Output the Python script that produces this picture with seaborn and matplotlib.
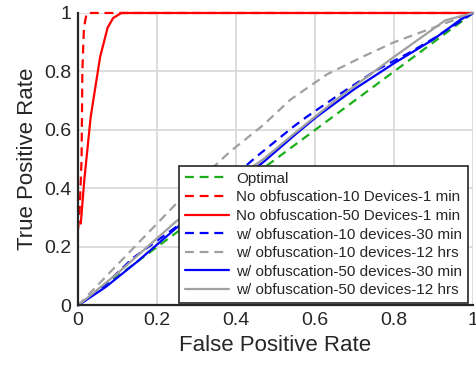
import matplotlib
matplotlib.use("Agg")
import matplotlib.pyplot as plt
import numpy as np
import pandas as pd
import seaborn as sns

# ROC curves (false positive rate, true positive rate)
optimal_fpr = [0.0, 1.0]
optimal_tpr = [0.0, 1.0]

noobf10_1min_fpr = [0.0, 0.004, 0.009, 0.011, 0.015, 0.022, 1.0]
noobf10_1min_tpr = [0.26, 0.32, 0.50, 0.80, 0.95, 1.0, 1.0]

noobf50_1min_fpr = [0.007, 0.016, 0.032, 0.056, 0.075, 0.089, 0.11, 1.0]
noobf50_1min_tpr = [0.28, 0.43, 0.644, 0.85, 0.95, 0.983, 1.0, 1.0]

obf10_30min_fpr = [0.0, 0.06, 0.138, 0.25, 0.35, 0.452, 0.545, 0.579, 0.66, 0.756, 0.84, 0.908, 1.0]
obf10_30min_tpr = [0.0, 0.06, 0.161, 0.27, 0.39, 0.509, 0.611, 0.645, 0.72, 0.805, 0.865, 0.919, 1.0]

obf10_12hrs_fpr = [0.0, 0.1, 0.233, 0.30, 0.385, 0.469, 0.537, 0.63, 0.72, 0.8, 0.93, 1.0]
obf10_12hrs_tpr = [0.0, 0.14, 0.326, 0.42, 0.526, 0.617, 0.703, 0.79, 0.85, 0.9, 0.965, 1.0]

obf50_30min_fpr = [0.0, 0.071, 0.15, 0.248, 0.35, 0.469, 0.554, 0.604, 0.70, 0.80, 0.90, 0.967, 1.0]
obf50_30min_tpr = [0.0, 0.064, 0.15, 0.264, 0.37, 0.49, 0.589, 0.645, 0.74, 0.828, 0.91, 0.976, 1.0]

obf50_12hrs_fpr = [0.0, 0.10, 0.248, 0.35, 0.469, 0.554, 0.65, 0.80, 0.93, 1.0]
obf50_12hrs_tpr = [0.0, 0.11, 0.287, 0.39, 0.50, 0.595, 0.70, 0.85, 0.975, 1.0]

series = [
    ("Optimal", optimal_fpr, optimal_tpr, "#1aaf1a", True),
    ("No obfuscation-10 Devices-1 min", noobf10_1min_fpr, noobf10_1min_tpr, "#ff0000", True),
    ("No obfuscation-50 Devices-1 min", noobf50_1min_fpr, noobf50_1min_tpr, "#ff0000", False),
    ("w/ obfuscation-10 devices-30 min", obf10_30min_fpr, obf10_30min_tpr, "#0000ff", True),
    ("w/ obfuscation-10 devices-12 hrs", obf10_12hrs_fpr, obf10_12hrs_tpr, "#a0a0a0", True),
    ("w/ obfuscation-50 devices-30 min", obf50_30min_fpr, obf50_30min_tpr, "#0000ff", False),
    ("w/ obfuscation-50 devices-12 hrs", obf50_12hrs_fpr, obf50_12hrs_tpr, "#a0a0a0", False),
]

sns.set_style("whitegrid")
plt.rcParams["font.family"] = ["Liberation Sans", "DejaVu Sans"]

fig = plt.figure(figsize=(4.76, 3.71), dpi=100)
ax = fig.add_axes([0.1639, 0.1766, 0.8298, 0.7884])

for name, fpr, tpr, color, dashed in series:
    df = pd.DataFrame({"fpr": fpr, "tpr": tpr})
    sns.lineplot(data=df, x="fpr", y="tpr", ax=ax, color=color, linewidth=1.6,
                 sort=False, estimator=None, label=name, clip_on=False)
    if dashed:
        ax.lines[-1].set_dashes((4, 2.6))

ax.set_xlim(0, 1)
ax.set_ylim(0, 1)
ticks = [0, 0.2, 0.4, 0.6, 0.8, 1]
tick_labels = ["0", "0.2", "0.4", "0.6", "0.8", "1"]
ax.set_xticks(ticks)
ax.set_xticklabels(tick_labels)
ax.set_yticks(ticks)
ax.set_yticklabels(tick_labels)
ax.set_xlabel("False Positive Rate", fontsize=16, color="#262626", labelpad=4)
ax.set_ylabel("True Positive Rate", fontsize=16, color="#262626", labelpad=4)
ax.tick_params(axis="both", direction="in", length=5, width=1.2, labelsize=14,
               colors="#262626", pad=5)
ax.grid(True, color="#dadada", linewidth=1.3)
for side in ["top", "right"]:
    ax.spines[side].set_visible(False)
for side in ["left", "bottom"]:
    ax.spines[side].set_color("#262626")
    ax.spines[side].set_linewidth(1.6)

leg = ax.legend(loc="lower right", bbox_to_anchor=(0.988, 0.008), fontsize=11,
                frameon=True, fancybox=False, framealpha=1, edgecolor="#262626",
                handlelength=2.9, handletextpad=0.5, labelspacing=0.3,
                borderpad=0.38, borderaxespad=0)
leg.get_frame().set_linewidth(1.2)

fig.savefig("out.png", dpi=100)
